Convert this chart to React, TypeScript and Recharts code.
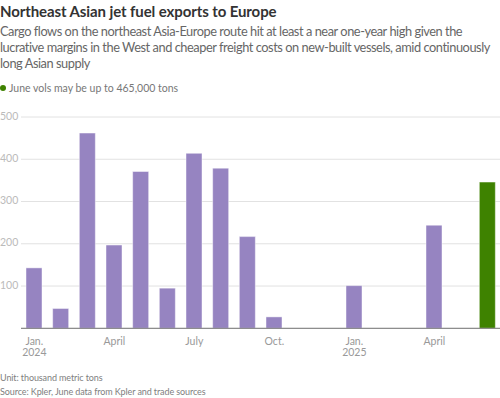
import React from "react";
import { BarChart, Bar, XAxis, YAxis, CartesianGrid, Cell } from "recharts";

const months = [
  "2024-01", "2024-02", "2024-03", "2024-04", "2024-05", "2024-06",
  "2024-07", "2024-08", "2024-09", "2024-10", "2024-11", "2024-12",
  "2025-01", "2025-02", "2025-03", "2025-04", "2025-05", "2025-06",
];
const exports = [143, 47, 462, 197, 371, 95, 414, 379, 217, 27, null, null, 101, null, null, 244, null, 346];
const tickLabels: Record<string, string[]> = {
  "2024-01": ["Jan.", "2024"],
  "2024-04": ["April"],
  "2024-07": ["July"],
  "2024-10": ["Oct."],
  "2025-01": ["Jan.", "2025"],
  "2025-04": ["April"],
};
const yTicks = [0, 100, 200, 300, 400, 500];
const highlight = "2025-06";

const subtitleLines = [
  "Cargo flows on the northeast Asia-Europe route hit at least a near one-year high given the",
  "lucrative margins in the West and cheaper freight costs on new-built vessels, amid continuously",
  "long Asian supply",
];

const data = months.map((m, i) => ({ month: m, value: exports[i] }));

const font = "Lato, 'Noto Sans', sans-serif";
const purple = "#9684c1";
const green = "#3e8200";

const XTick = (props: any) => {
  const { x, y, payload } = props;
  const lines = tickLabels[payload.value];
  if (!lines) return null;
  return (
    <g>
      {lines.map((l, i) => (
        <text key={i} x={x} y={y + 6 + i * 11.5} textAnchor="middle" fontSize={10.5} fill="#999" fontFamily={font} dominantBaseline="middle">
          {l}
        </text>
      ))}
    </g>
  );
};

const YTick = (props: any) => {
  const { y, payload } = props;
  if (payload.value === 0) return null;
  return (
    <text x={0} y={y} textAnchor="start" dominantBaseline="middle" fontSize={10.5} fill="#bbb" fontFamily={font}>
      {payload.value}
    </text>
  );
};

export default function App() {
  return (
    <div style={{ position: "absolute", left: 0, top: 0, width: 500, height: 398, background: "#fff", fontFamily: font, overflow: "hidden" }}>
      <div style={{ position: "absolute", left: 0, top: 2, fontSize: 15, fontWeight: 700, color: "#333", letterSpacing: -0.1, whiteSpace: "nowrap" }}>
        Northeast Asian jet fuel exports to Europe
      </div>
      <div style={{ position: "absolute", left: 0, top: 23, fontSize: 12.8, lineHeight: "16px", color: "#666", letterSpacing: -0.45, whiteSpace: "nowrap" }}>
        {subtitleLines.map((l, i) => (
          <div key={i}>{l}</div>
        ))}
      </div>
      <div style={{ position: "absolute", left: 0, top: 82, fontSize: 10.5, color: "#777", display: "flex", alignItems: "center", whiteSpace: "nowrap" }}>
        <span style={{ display: "inline-block", width: 6, height: 6, borderRadius: 3, background: green, marginRight: 3 }} />
        June vols may be up to 465,000 tons
      </div>
      <div style={{ position: "absolute", left: 0, top: 100 }}>
        <BarChart width={501} height={270} data={data} margin={{ top: 17, right: 0, bottom: 0, left: 0 }} barSize={16}>
          <CartesianGrid vertical={false} stroke="#e2e2e2" strokeWidth={1} />
          <YAxis domain={[0, 500]} ticks={yTicks} width={21} axisLine={false} tickLine={false} tick={<YTick />} interval={0} />
          <XAxis dataKey="month" height={41.7} tickLine={false} axisLine={{ stroke: "#777", strokeWidth: 1 }} tick={<XTick />} interval={0} />
          <Bar dataKey="value" isAnimationActive={false} stroke="#ffffff" strokeOpacity={0.45} strokeWidth={1}>
            {data.map((d) => (
              <Cell key={d.month} fill={d.month === highlight ? green : purple} />
            ))}
          </Bar>
        </BarChart>
      </div>
      <div style={{ position: "absolute", left: 0, top: 372, fontSize: 9, color: "#808080", letterSpacing: -0.1, whiteSpace: "nowrap" }}>Unit: thousand metric tons</div>
      <div style={{ position: "absolute", left: 0, top: 386, fontSize: 9, color: "#808080", letterSpacing: -0.1, whiteSpace: "nowrap" }}>Source: Kpler, June data from Kpler and trade sources</div>
    </div>
  );
}
